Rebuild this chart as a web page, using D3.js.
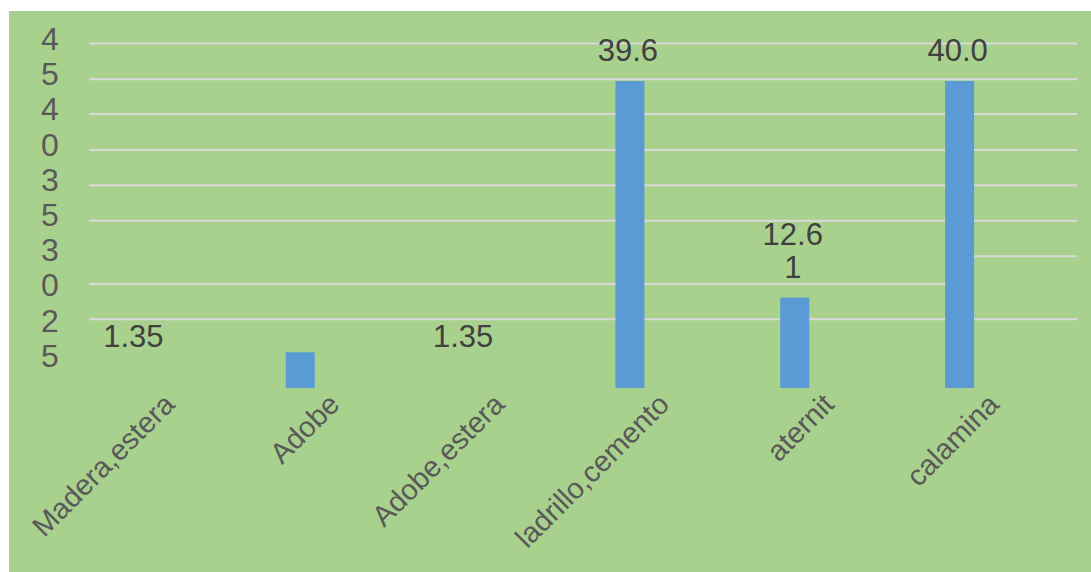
<!DOCTYPE html>
<html><head><meta charset="utf-8">
<script src="https://cdn.jsdelivr.net/npm/d3@7"></script>
<style>
body{margin:0;background:#fff;}
svg{display:block;font-family:"Liberation Sans",Arial,sans-serif;}
</style>
</head><body>
<svg id="c" width="1091" height="572"></svg>
<script>
// ---- data ----
const categories = ["Madera,estera", "Adobe", "Adobe,estera", "ladrillo,cemento", "aternit", "calamina"];
const values = [1.35, 5.8, 1.35, 39.6, 12.61, 40.0];
const dataLabels = ["1.35", "", "1.35", "39.6", "12.61", "40.0"];
const yTickLabels = ["45", "40", "35", "30", "25"];
const gridValues = [44.27, 39.81, 35.49, 31.0, 26.61, 22.19, 9.91];
const gridLeftOnly = [14.31];
const gridRightOnly = [17.76];

// ---- layout ----
const svg = d3.select("#c");
const W = 1091, H = 572;
const gridX0 = 89, gridX1 = 1077;
const baseY = 388, topY = 81;

svg.append("rect").attr("x", 9).attr("y", 11).attr("width", W - 9).attr("height", H - 11)
  .attr("fill", "#a9d18e");

const x = d3.scaleBand().domain(categories).range([53, 1042]).paddingInner(0).paddingOuter(0);
const y = d3.scaleLinear().domain([1.35, 39.6]).range([baseY, topY]);
const yLab = d3.scaleBand().domain(yTickLabels).range([21, 373]);
const barW = x.bandwidth() * 0.176;
const cx = d => x(d) + x.bandwidth() / 2;
const yc = v => Math.max(y(v), topY);

const gridColor = "#d9d9d9";
const g = svg.append("g");
g.selectAll("line.full").data(gridValues).join("line").attr("class", "full")
  .attr("x1", gridX0).attr("x2", gridX1)
  .attr("y1", d => y(d)).attr("y2", d => y(d))
  .attr("stroke", gridColor).attr("stroke-width", 2);
const splitX = cx("calamina");
g.selectAll("line.left").data(gridLeftOnly).join("line").attr("class", "left")
  .attr("x1", gridX0).attr("x2", splitX)
  .attr("y1", d => y(d)).attr("y2", d => y(d))
  .attr("stroke", gridColor).attr("stroke-width", 2);
g.selectAll("line.right").data(gridRightOnly).join("line").attr("class", "right")
  .attr("x1", splitX).attr("x2", gridX1)
  .attr("y1", d => y(d)).attr("y2", d => y(d))
  .attr("stroke", gridColor).attr("stroke-width", 2);

// y tick labels, wrapped one digit per line
const yt = svg.append("g").selectAll("text").data(yTickLabels).join("text")
  .attr("x", 50).attr("y", d => yLab(d) + 29)
  .attr("text-anchor", "middle").attr("fill", "#595959").attr("font-size", 32);
yt.each(function(d) {
  const t = d3.select(this);
  d.split("").forEach((ch, i) => {
    t.append("tspan").attr("x", 50).attr("dy", i === 0 ? 0 : 35.2).text(ch);
  });
});

// bars
const rows = categories.map((c, i) => ({c, v: values[i], label: dataLabels[i]}));
svg.append("g").selectAll("rect").data(rows).join("rect")
  .attr("x", d => cx(d.c) - barW / 2)
  .attr("y", d => yc(d.v))
  .attr("width", barW)
  .attr("height", d => baseY - yc(d.v))
  .attr("fill", "#5b9bd5");

// data labels (wrapped at 4 chars)
function wrap(s) {
  const out = [];
  for (let i = 0; i < s.length; i += 4) out.push(s.slice(i, i + 4));
  return out;
}
svg.append("g").selectAll("text").data(rows.filter(d => d.label)).join("text")
  .attr("text-anchor", "middle").attr("fill", "#404040").attr("font-size", 31)
  .each(function(d) {
    const lines = wrap(d.label);
    const last = Math.min(yc(d.v), 367) - 20;
    const t = d3.select(this);
    lines.forEach((ln, i) => {
      t.append("tspan").attr("x", cx(d.c) - 2)
        .attr("y", last - (lines.length - 1 - i) * 33).text(ln);
    });
  });

// x axis labels rotated
svg.append("g").selectAll("text").data(categories).join("text")
  .attr("transform", d => `translate(${cx(d) + 41},${406}) rotate(-45)`)
  .attr("text-anchor", "end").attr("fill", "#595959").attr("font-size", 29)
  .text(d => d);
</script>
</body></html>
